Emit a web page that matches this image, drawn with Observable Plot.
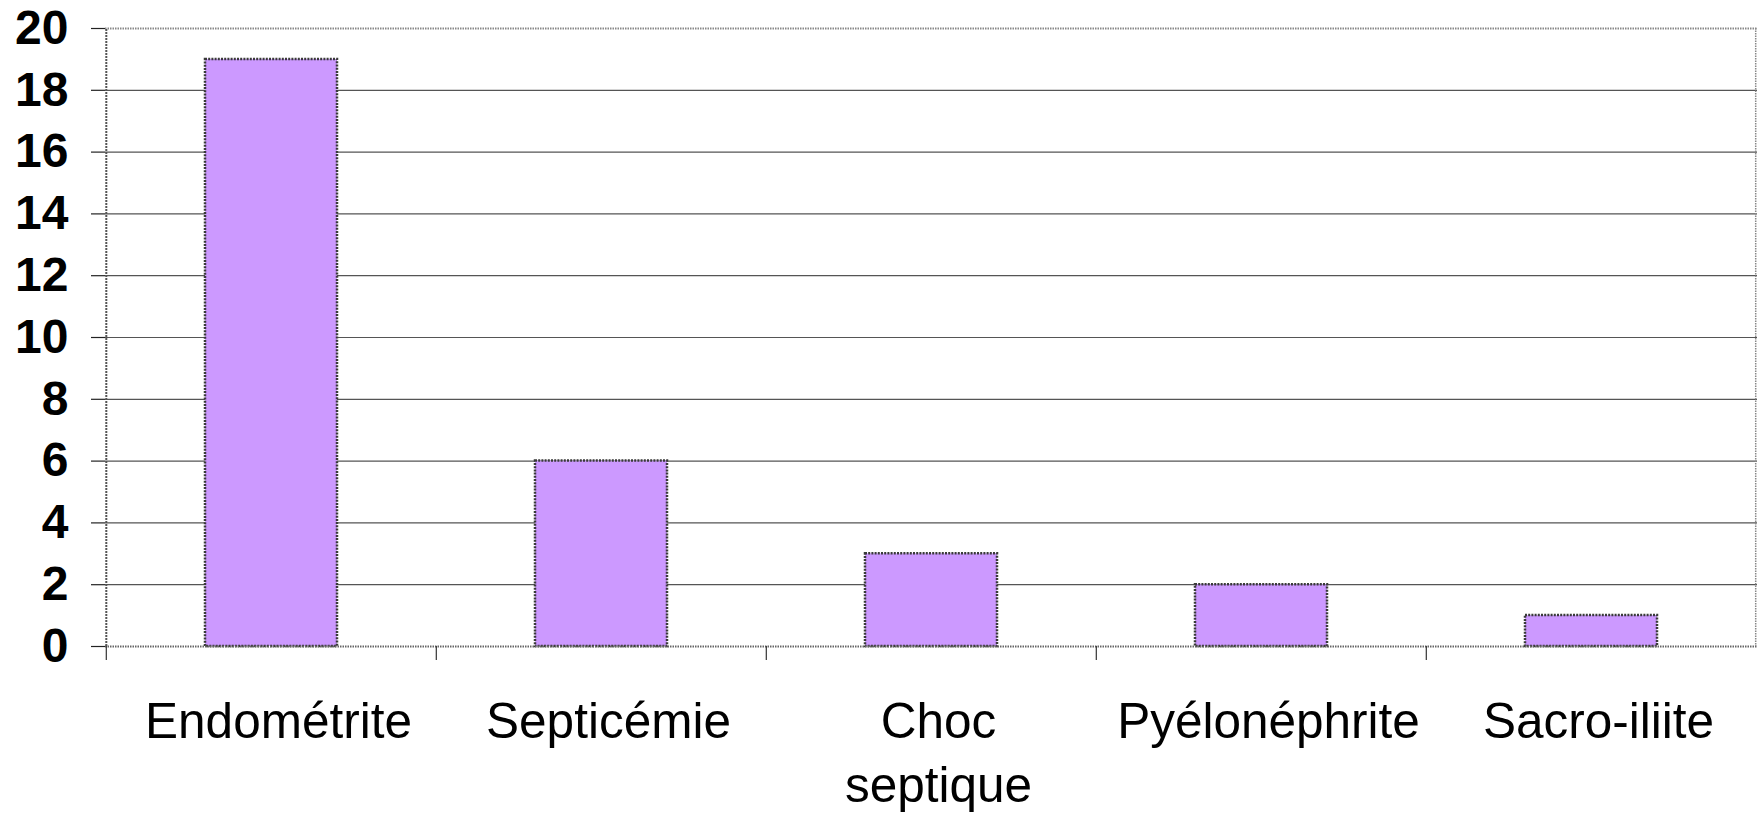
<!DOCTYPE html>
<html>
<head>
<meta charset="utf-8">
<script src="https://cdn.jsdelivr.net/npm/d3@7"></script>
<script src="https://cdn.jsdelivr.net/npm/@observablehq/plot@0.6"></script>
<style>
  html, body { margin: 0; padding: 0; background: #fff; }
  #chart svg { display: block; overflow: visible; }
</style>
</head>
<body>
<div id="chart"></div>
<script>
// Data
const categories = ["Endométrite", "Septicémie", "Choc septique", "Pyélonéphrite", "Sacro-iliite"];
const counts = [19, 6, 3, 2, 1];
const yTicks = [0, 2, 4, 6, 8, 10, 12, 14, 16, 18, 20];

const data = categories.map((c, i) => ({category: c, value: counts[i]}));

const W = 1758, H = 815;
const mL = 105, mR = 1, mT = 28, mB = 169;
const step = (W - mL - mR) / categories.length;
const font = "'Liberation Sans', Arial, Helvetica, sans-serif";

const chart = Plot.plot({
  width: W,
  height: H,
  marginLeft: mL,
  marginRight: mR,
  marginTop: mT,
  marginBottom: mB,
  style: {fontFamily: font, background: "#fff", color: "#000", overflow: "visible"},
  x: {domain: categories, paddingInner: 0.6, paddingOuter: 0.3, label: null},
  y: {domain: [0, 20], label: null},
  marks: [
    // horizontal grid lines
    Plot.ruleY(yTicks.filter(d => d > 0 && d < 20), {stroke: "#555", strokeWidth: 1.2}),
    // top frame (dotted)
    Plot.ruleY([20], {stroke: "#888", strokeWidth: 2, strokeDasharray: "1.5 1"}),
    // right frame
    Plot.ruleX([categories[categories.length - 1]], {dx: step / 2 - 1, stroke: "#888", strokeWidth: 1.5, strokeDasharray: "1.5 1"}),
    // bars
    Plot.barY(data, {x: "category", y: "value", fill: "#CC99FF", stroke: "#3a3a3a", strokeWidth: 2.5, strokeDasharray: "2 1.2"}),
    // baseline
    Plot.ruleY([0], {stroke: "#666", strokeWidth: 2, strokeDasharray: "1.5 1"}),
    // left axis line
    Plot.ruleX([0], {x: () => categories[0], dx: -step / 2, y1: 0, y2: 20, stroke: "#555", strokeWidth: 2, strokeDasharray: "2 1"}),
    // y axis ticks + labels
    Plot.axisY({
      ticks: yTicks,
      tickSize: 14,
      tickPadding: 23,
      fontSize: 48,
      fontWeight: "bold",
      stroke: "#222",
      strokeWidth: 1.2,
      fill: "#000",
      label: null
    }),
    // x axis tick marks at band boundaries
    Plot.axisX({
      tickSize: 14,
      dx: -step / 2,
      tickFormat: () => "",
      stroke: "#333",
      strokeWidth: 1.2,
      label: null
    }),
    // x axis labels
    Plot.axisX({
      tickSize: 0,
      tickPadding: 45,
      dx: 7,
      fontSize: 49.5,
      lineHeight: 1.31,
      fill: "#000",
      tickFormat: d => d === "Choc septique" ? "Choc\nseptique" : d,
      label: null
    })
  ]
});

document.getElementById("chart").appendChild(chart);
</script>
</body>
</html>
